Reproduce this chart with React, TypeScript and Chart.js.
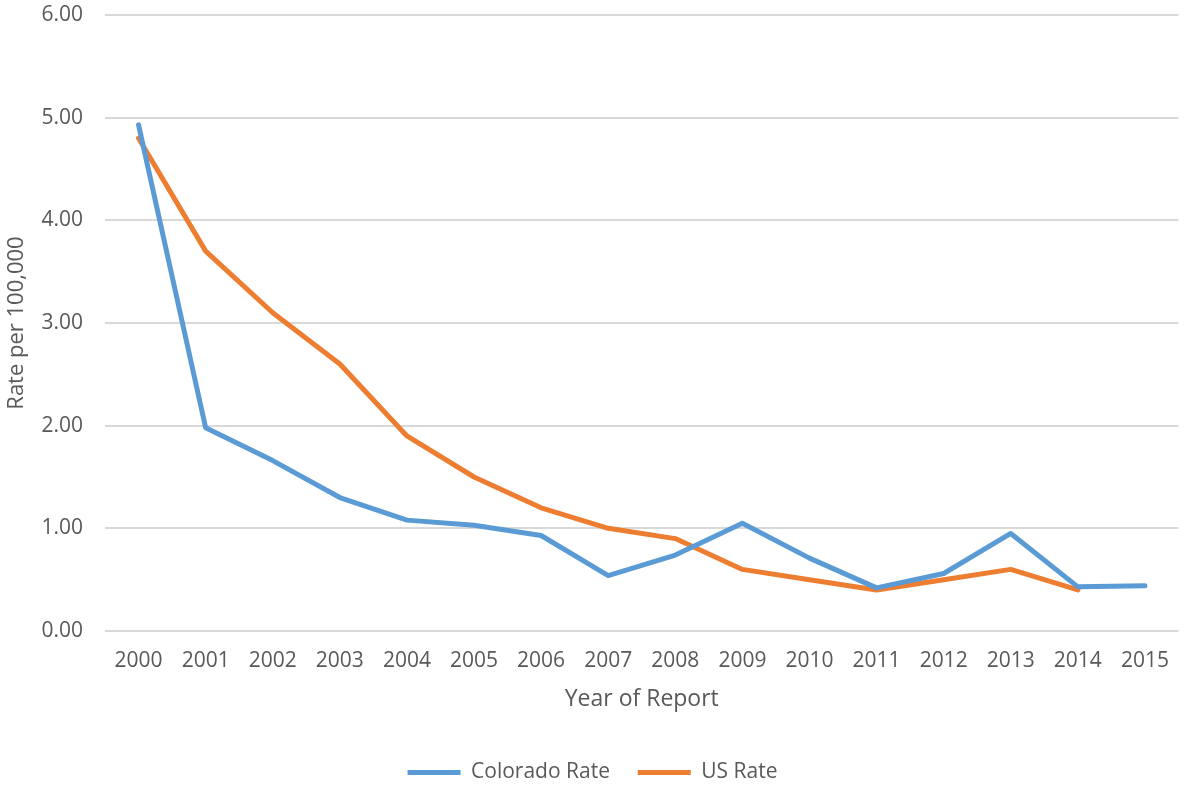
import React, { useEffect, useRef } from "react";
import { Chart, registerables } from "chart.js";

Chart.register(...registerables);

const years = ["2000","2001","2002","2003","2004","2005","2006","2007","2008","2009","2010","2011","2012","2013","2014","2015"];
const coloradoRate = [4.93, 1.98, 1.66, 1.30, 1.08, 1.03, 0.93, 0.54, 0.74, 1.05, 0.71, 0.42, 0.56, 0.95, 0.43, 0.44];
const usRate = [4.8, 3.7, 3.1, 2.6, 1.9, 1.5, 1.2, 1.0, 0.9, 0.6, 0.5, 0.4, 0.5, 0.6, 0.4, null];
const yTicks = [0, 1, 2, 3, 4, 5, 6];

const FONT = "'Open Sans', 'Noto Sans', sans-serif";
const TEXT = "#595959";

export default function App() {
  const ref = useRef<HTMLCanvasElement | null>(null);
  useEffect(() => {
    if (!ref.current) return;
    const chart = new Chart(ref.current, {
      type: "line",
      data: {
        labels: years,
        datasets: [
          { label: "Colorado Rate", data: coloradoRate, borderColor: "#5B9BD5", backgroundColor: "#5B9BD5", borderWidth: 5, pointRadius: 0, borderJoinStyle: "round", borderCapStyle: "round", tension: 0 },
          { label: "US Rate", data: usRate, borderColor: "#ED7D31", backgroundColor: "#ED7D31", borderWidth: 5, pointRadius: 0, borderJoinStyle: "round", borderCapStyle: "round", tension: 0, spanGaps: false },
        ],
      },
      options: {
        responsive: false,
        animation: false,
        layout: { padding: { top: 0, right: 1, left: 0, bottom: -8 } },
        plugins: {
          tooltip: { enabled: false },
          legend: {
            position: "bottom",
            labels: {
              color: TEXT,
              font: { family: FONT, size: 21 },
              boxWidth: 53,
              boxHeight: 5,
              padding: 6,
              generateLabels: (c: any) =>
                c.data.datasets.map((d: any, i: number) => ({
                  text: i === 0 ? d.label + "    " : d.label,
                  fillStyle: d.borderColor,
                  strokeStyle: d.borderColor,
                  lineWidth: 0,
                  fontColor: TEXT,
                  datasetIndex: i,
                  hidden: false,
                })),
            },
          },
        },
        scales: {
          x: {
            offset: true,
            grid: { display: false, drawTicks: false },
            border: { display: false },
            ticks: { color: TEXT, font: { family: FONT, size: 21 }, padding: 17, maxRotation: 0, autoSkip: false },
            title: { display: true, text: "Year of Report", color: TEXT, font: { family: FONT, size: 23 }, padding: { top: 4, bottom: 43 } },
            afterFit: (s: any) => { s.height = 125; },
          },
          y: {
            min: 0,
            max: 6,
            afterBuildTicks: (s: any) => { s.ticks = yTicks.map((v) => ({ value: v })); },
            grid: { color: "#D9D9D9", lineWidth: 2, drawTicks: false },
            border: { display: false },
            ticks: { color: TEXT, font: { family: FONT, size: 21 }, padding: 22, callback: (v: any) => Number(v).toFixed(2) },
            title: { display: true, text: "Rate per 100,000", color: TEXT, font: { family: FONT, size: 22 }, padding: { top: 4, bottom: 4 } },
            afterFit: (s: any) => { s.width = 105; s.paddingTop = 15; s.paddingBottom = 0; },
          },
        },
      },
    });
    return () => chart.destroy();
  }, []);
  return (
    <div style={{ position: "fixed", left: 0, top: 0, width: 1186, height: 785, background: "#fff" }}>
      <canvas ref={ref} width={1186} height={785} style={{ display: "block" }} />
    </div>
  );
}
